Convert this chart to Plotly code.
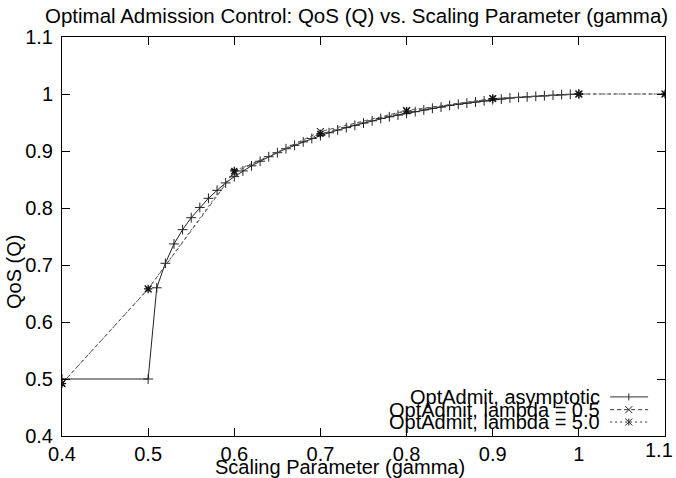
import plotly.graph_objects as go

gamma_asym = [0.40, 0.50, 0.51, 0.52, 0.53, 0.54, 0.55, 0.56, 0.57, 0.58, 0.59,
              0.60, 0.61, 0.62, 0.63, 0.64, 0.65, 0.66, 0.67, 0.68, 0.69,
              0.70, 0.71, 0.72, 0.73, 0.74, 0.75, 0.76, 0.77, 0.78, 0.79,
              0.80, 0.81, 0.82, 0.83, 0.84, 0.85, 0.86, 0.87, 0.88, 0.89,
              0.90, 0.91, 0.92, 0.93, 0.94, 0.95, 0.96, 0.97, 0.98, 0.99, 1.00]
q_asym = [0.500, 0.500, 0.660, 0.703, 0.737, 0.762, 0.783, 0.801, 0.817, 0.831, 0.844,
          0.855, 0.865, 0.874, 0.882, 0.890, 0.897, 0.904, 0.910, 0.916, 0.922,
          0.927, 0.932, 0.937, 0.941, 0.945, 0.949, 0.953, 0.957, 0.960, 0.963,
          0.966, 0.969, 0.972, 0.975, 0.977, 0.980, 0.982, 0.984, 0.986, 0.988,
          0.990, 0.991, 0.993, 0.994, 0.995, 0.996, 0.997, 0.998, 0.999, 0.9995, 1.000]

gamma_lam = [0.4, 0.5, 0.6, 0.7, 0.8, 0.9, 1.0, 1.1]
q_lam05 = [0.492, 0.658, 0.862, 0.934, 0.971, 0.992, 1.000, 1.000]
q_lam50 = [0.492, 0.658, 0.865, 0.930, 0.970, 0.992, 1.000, 1.000]

x_ticks = [0.4, 0.5, 0.6, 0.7, 0.8, 0.9, 1.0, 1.1]
x_tick_labels = ["0.4", "0.5", "0.6", "0.7", "0.8", "0.9", "1", "1.1"]
y_ticks = [0.4, 0.5, 0.6, 0.7, 0.8, 0.9, 1.0, 1.1]
y_tick_labels = ["0.4", "0.5", "0.6", "0.7", "0.8", "0.9", "1", "1.1"]

names = ["OptAdmit, asymptotic", "OptAdmit, lambda = 0.5", "OptAdmit, lambda = 5.0"]

FONT = "Liberation Sans, Arial, sans-serif"
FS = 20

C1, C2, C3 = "#222222", "#555555", "#555555"
fig = go.Figure()
fig.add_trace(go.Scatter(x=gamma_asym, y=q_asym, mode="lines+markers", name=names[0],
                         line=dict(color=C1, width=1),
                         marker=dict(symbol="cross-thin", size=7, line=dict(color=C1, width=1))))
fig.add_trace(go.Scatter(x=gamma_lam, y=q_lam05, mode="lines+markers", name=names[1],
                         line=dict(color=C2, width=1, dash="4px,3px"),
                         marker=dict(symbol="x-thin", size=7, line=dict(color="#333333", width=1.2))))
fig.add_trace(go.Scatter(x=gamma_lam, y=q_lam50, mode="lines+markers", name=names[2],
                         line=dict(color=C3, width=1, dash="2px,3px"),
                         marker=dict(symbol="asterisk", size=7, line=dict(color="#111111", width=1.3))))

# gnuplot-style key: right-aligned text with sample line to its right
dashes = ["solid", "4px,3px", "2px,3px"]
leg_y = [0.098, 0.066, 0.035]
annotations = []
shapes = []
mx, mdx, mdy = 0.940, 0.0058, 0.0088
for i, nm in enumerate(names):
    annotations.append(dict(x=0.896, y=leg_y[i], xref="paper", yref="paper", text=nm,
                            showarrow=False, xanchor="right", yanchor="middle",
                            font=dict(family=FONT, size=FS, color="black")))
    shapes.append(dict(type="line", xref="paper", yref="paper", x0=0.909, x1=0.972,
                       y0=leg_y[i], y1=leg_y[i],
                       line=dict(color="#333333", width=1, dash=dashes[i])))
    yy = leg_y[i]
    if i in (0, 2):
        shapes.append(dict(type="line", xref="paper", yref="paper", x0=mx, x1=mx,
                           y0=yy - mdy, y1=yy + mdy, line=dict(color="#222222", width=1)))
    if i in (1, 2):
        shapes.append(dict(type="line", xref="paper", yref="paper", x0=mx - mdx, x1=mx + mdx,
                           y0=yy - mdy, y1=yy + mdy, line=dict(color="#222222", width=1)))
        shapes.append(dict(type="line", xref="paper", yref="paper", x0=mx - mdx, x1=mx + mdx,
                           y0=yy + mdy, y1=yy - mdy, line=dict(color="#222222", width=1)))

# last x tick label would be clipped at the page edge: place it right-aligned
annotations.append(dict(x=1.0, y=0.0, xref="paper", yref="paper", xanchor="right", yanchor="top",
                        xshift=10, yshift=-1, text=x_tick_labels[-1], showarrow=False,
                        font=dict(family=FONT, size=FS, color="black")))
annotations.append(dict(x=0.461, y=-0.078, xref="paper", yref="paper", xanchor="center", yanchor="middle",
                        text="Scaling Parameter (gamma)", showarrow=False,
                        font=dict(family=FONT, size=FS, color="black")))
annotations.append(dict(x=-0.0796, y=0.411, xref="paper", yref="paper", xanchor="center", yanchor="middle",
                        text="QoS (Q)", textangle=-90, showarrow=False,
                        font=dict(family=FONT, size=FS, color="black")))
annotations.append(dict(x=0.489, y=1.055, xref="paper", yref="paper", xanchor="center", yanchor="middle",
                        text="Optimal Admission Control: QoS (Q) vs. Scaling Parameter (gamma)",
                        showarrow=False, font=dict(family=FONT, size=20.5, color="black")))

fig.update_layout(
    width=676, height=478,
    margin=dict(l=62, r=11, t=37, b=42),
    paper_bgcolor="white", plot_bgcolor="white",
    showlegend=False,
    font=dict(family=FONT, size=FS, color="black"),
    annotations=annotations,
    shapes=shapes,
    xaxis=dict(range=[0.4, 1.1], tickvals=x_ticks[:-1] + [x_ticks[-1]],
               ticktext=x_tick_labels[:-1] + [""],
               ticks="inside", ticklen=8, tickcolor="black", mirror="ticks",
               showline=True, linecolor="black", linewidth=1, showgrid=False, zeroline=False,
               tickfont=dict(family=FONT, size=FS), ticklabelstandoff=0),
    yaxis=dict(range=[0.4, 1.1], tickvals=y_ticks, ticktext=y_tick_labels,
               ticks="inside", ticklen=8, tickcolor="black", mirror="ticks",
               showline=True, linecolor="black", linewidth=1, showgrid=False, zeroline=False,
               tickfont=dict(family=FONT, size=FS), ticklabelstandoff=4),
)

fig.write_html("out.html")
